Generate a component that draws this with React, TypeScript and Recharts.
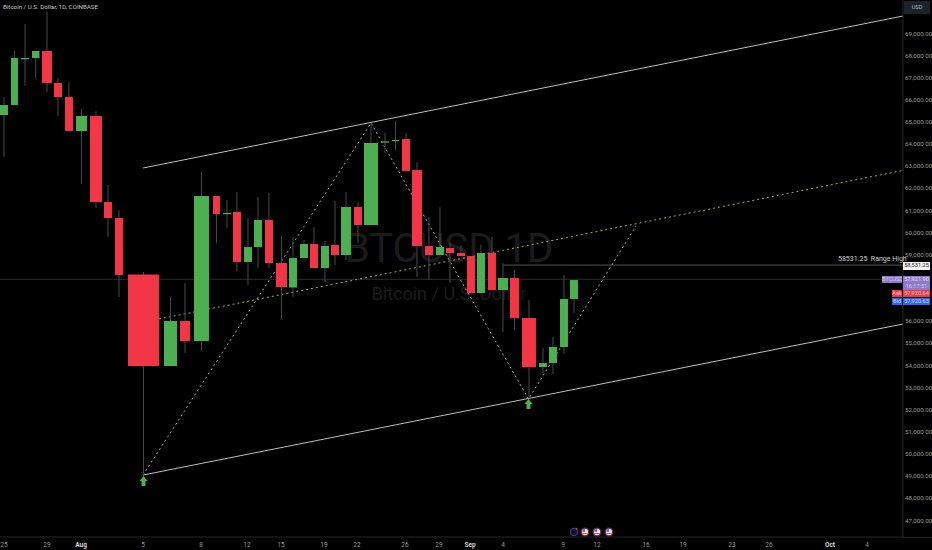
import { ComposedChart, Bar, Line, Scatter, XAxis, YAxis } from "recharts";

// daily candles, 25 Jul - 10 Sep
const dates = [
    "Jul 25", "Jul 26", "Jul 27", "Jul 28", "Jul 29", "Jul 30", "Jul 31",
    "Aug 1", "Aug 2", "Aug 3", "Aug 4", "Aug 5", "Aug 6", "Aug 7", "Aug 8", "Aug 9", "Aug 10",
    "Aug 11", "Aug 12", "Aug 13", "Aug 14", "Aug 15", "Aug 16", "Aug 17", "Aug 18", "Aug 19", "Aug 20",
    "Aug 21", "Aug 22", "Aug 23", "Aug 24", "Aug 25", "Aug 26", "Aug 27", "Aug 28", "Aug 29", "Aug 30", "Aug 31",
    "Sep 1", "Sep 2", "Sep 3", "Sep 4", "Sep 5", "Sep 6", "Sep 7", "Sep 8", "Sep 9", "Sep 10",
];
const opens = [
    65309, 65761, 67884, 67884, 68200, 66755, 66122,
    64587, 65264, 61380, 60657, 58105, 53972, 56005, 55101, 61651, 60884,
    60928, 58669, 59347, 60567, 58624, 57518, 58850, 59482, 58398, 59437,
    58986, 61154, 60341, 64112, 64180, 64225, 62825, 59392, 58986, 59302, 59076,
    58940, 57269, 59076, 57405, 57947, 56140, 53926, 54107, 54830, 56998,
];
const highs = [
    66122, 68200, 69420, 68200, 69962, 66981, 66800,
    65580, 65490, 62147, 61018, 58218, 57089, 57721, 62735, 61651, 61470,
    61831, 60657, 61605, 61786, 59844, 59799, 59663, 60250, 59618, 61425,
    61831, 61380, 64948, 64496, 65038, 64496, 63186, 60702, 61154, 59528, 59437,
    58940, 59437, 59799, 58624, 58308, 56953, 54785, 55282, 58082, 57856,
];
const lows = [
    63412, 65761, 66619, 66981, 66348, 65264, 64587,
    62193, 61109, 59799, 57089, 49048, 53972, 54559, 54649, 59528, 60205,
    58263, 57630, 58398, 58398, 56095, 57089, 58850, 58398, 57766, 58534,
    58760, 59528, 60341, 63593, 63729, 62780, 57992, 57856, 58986, 57721, 58940,
    57269, 57269, 57405, 55507, 55598, 52572, 53656, 53610, 54514, 56366,
];
const closes = [
    65761, 67884, 67884, 68200, 66755, 66122, 64587,
    65264, 61380, 60657, 58082, 53972, 56005, 55101, 61651, 60838, 60890,
    58669, 59347, 60567, 58624, 57540, 58850, 59482, 58398, 59392, 58986,
    61154, 60341, 64045, 64120, 64185, 62780, 59392, 58986, 59347, 59076, 58940,
    57269, 59076, 57405, 57947, 56140, 53926, 54107, 54830, 56998, 57856,
];

// the time scale of this picture is uneven, so every candle has its own span on it
const timeAxisEnd = 903;
const barSpans = [
    [0, 8], [11, 18], [21, 29], [32, 39.5], [42, 52], [54, 62], [65, 73],
    [76, 87], [90, 102], [104, 112], [115, 123], [128, 159], [164, 177], [180, 190], [194, 209], [213, 220], [223, 231],
    [233, 241], [244, 252], [254, 262], [265, 273], [276, 287], [289, 297], [300, 308], [310, 318], [321, 329], [331, 339],
    [341, 351], [354, 362], [364, 378], [381, 389], [392, 399], [402, 410], [412, 422], [425, 433], [436, 444], [446, 454], [457, 465],
    [467, 475], [477, 485], [488, 496], [498, 508], [510, 519], [522, 536], [539, 547], [549, 557], [560, 568], [570, 578],
];

const tickTimes = [4, 47, 81, 143, 201, 247, 281, 324, 357, 405, 439, 470, 503, 563, 597, 646, 683, 732, 769, 830, 867];
const tickLabels = ["25", "29", "Aug", "5", "8", "12", "15", "19", "22", "26", "29", "Sep", "4", "9", "12", "16", "19", "23", "26", "Oct", "4"];
const priceTicks = [47000, 48000, 49000, 50000, 51000, 52000, 53000, 54000, 55000, 56000, 59000, 60000, 61000, 62000, 63000, 64000, 65000, 66000, 67000, 68000, 69000];

const upperChannel = [{ t: 143, price: 62915 }, { t: 903, price: 69781 }];
const midChannel = [{ t: 159, price: 56095 }, { t: 903, price: 62807 }];
const lowerChannel = [{ t: 143, price: 49048 }, { t: 903, price: 55869 }];
const zigzag = [
    { t: 143, price: 49048 },
    { t: 371, price: 64948 },
    { t: 528.5, price: 52481 },
    { t: 636, price: 60296 },
];
const rangeHigh = [{ t: 503, price: 58531.25 }, { t: 903, price: 58531.25 }];
const lastPrice = [{ t: 0, price: 57890 }, { t: 903, price: 57890 }];
const arrows = [{ t: 143.5, price: 48777 }, { t: 528.5, price: 52256 }];
const events = [
    { t: 574, price: 46475, kind: "split" },
    { t: 585, price: 46475, kind: "us" },
    { t: 597, price: 46475, kind: "us" },
    { t: 609, price: 46475, kind: "us" },
];

const candles = dates.map((date, i) => ({
    date,
    t: (barSpans[i][0] + barSpans[i][1]) / 2,
    span: barSpans[i][1] - barSpans[i][0],
    open: opens[i],
    high: highs[i],
    low: lows[i],
    close: closes[i],
}));

const UP = "#4caf50";
const DOWN = "#f23645";

const Candle = (props: any) => {
    const { x, y, width, height, payload } = props;
    const cx = x + width / 2;
    const range = payload.high - payload.low;
    const toY = (p: number) => y + ((payload.high - p) / range) * height;
    const top = toY(Math.max(payload.open, payload.close));
    const bottom = toY(Math.min(payload.open, payload.close));
    return (
        <g>
            <line x1={cx} x2={cx} y1={y} y2={y + height} stroke="#4a4a4a" strokeWidth={1} />
            <rect
                x={cx - payload.span / 2}
                y={top}
                width={payload.span}
                height={Math.max(bottom - top, 1.3)}
                fill={payload.close >= payload.open ? UP : DOWN}
            />
        </g>
    );
};

const Arrow = (props: any) => {
    const { cx, cy } = props;
    return (
        <polygon
            points={`${cx},${cy - 5} ${cx + 4},${cy} ${cx + 2},${cy} ${cx + 2},${cy + 5} ${cx - 2},${cy + 5} ${cx - 2},${cy} ${cx - 4},${cy}`}
            fill={UP}
        />
    );
};

const EventIcon = (props: any) => {
    const { cx, cy, payload } = props;
    if (payload.kind === "split") {
        return (
            <g>
                <circle cx={cx} cy={cy} r={3.8} fill="#14102a" stroke="#4a3f9a" strokeWidth={1} />
                <circle cx={cx + 2.6} cy={cy - 3} r={0.9} fill="#f23645" />
            </g>
        );
    }
    return (
        <g>
            <circle cx={cx} cy={cy} r={3.8} fill="#e8e8f0" stroke="#7c2430" strokeWidth={1.2} />
            <rect x={cx - 2.6} y={cy - 2.8} width={2.6} height={2.6} fill="#3f6fd8" />
            <rect x={cx - 2.8} y={cy + 1} width={5.6} height={1} fill="#d85050" />
        </g>
    );
};

const TimeTick = (props: any) => {
    const { x, payload } = props;
    const label = tickLabels[tickTimes.indexOf(payload.value)];
    const isMonth = /[A-Za-z]/.test(label);
    return (
        <text
            x={x}
            y={546.5}
            textAnchor="middle"
            fontSize={6.5}
            fontFamily="Roboto"
            fontWeight={isMonth ? 700 : 400}
            fill={isMonth ? "#d8d8d8" : "#9a9a9a"}
        >
            {label}
        </text>
    );
};

const tag = (
    left: number,
    top: number,
    width: number,
    height: number,
    background: string,
    color: string,
    text: string
) => (
    <div
        style={{
            position: "absolute",
            left,
            top,
            width,
            height,
            background,
            color,
            fontSize: 5.6,
            lineHeight: `${height}px`,
            textAlign: "center",
            whiteSpace: "nowrap",
            overflow: "hidden",
            fontFamily: "Roboto",
        }}
    >
        {text}
    </div>
);

const lineProps = { dataKey: "price", dot: false, activeDot: false, isAnimationActive: false };

const App = () => {
    return (
        <div style={{ position: "absolute", left: 0, top: 0, width: 932, height: 550, background: "#000", overflow: "hidden" }}>
            <div style={{ position: "absolute", left: 249, width: 400, top: 226, textAlign: "center", color: "#1b1b1b", fontSize: 40, lineHeight: "46px", fontFamily: "Roboto" }}>
                BTCUSD 1D
            </div>
            <div style={{ position: "absolute", left: 249, width: 400, top: 283, textAlign: "center", color: "#1b1b1b", fontSize: 18, lineHeight: "22px", fontFamily: "Roboto" }}>
                Bitcoin / U.S. Dollar
            </div>
            <div style={{ position: "absolute", left: 3, top: 3, color: "#c8c8c8", fontSize: 6.2, lineHeight: "8px", fontFamily: "Roboto" }}>
                Bitcoin / U.S. Dollar, 1D, COINBASE
            </div>

            <div style={{ position: "absolute", left: 0, top: 0 }}>
                <ComposedChart width={932} height={550} data={candles} margin={{ top: 0, right: 0, bottom: 0, left: 0 }}>
                    <XAxis
                        dataKey="t"
                        type="number"
                        domain={[0, timeAxisEnd]}
                        ticks={tickTimes}
                        interval={0}
                        height={13}
                        tick={<TimeTick />}
                        tickLine={false}
                        axisLine={{ stroke: "#262626" }}
                        allowDataOverflow
                    />
                    <YAxis
                        orientation="right"
                        type="number"
                        domain={[46250, 70504]}
                        ticks={priceTicks}
                        interval={0}
                        width={29}
                        tick={{ fontSize: 6.2, fill: "#9a9a9a", fontFamily: "Roboto" }}
                        tickFormatter={(v: number) => v.toLocaleString("en-US", { minimumFractionDigits: 2 })}
                        tickLine={false}
                        tickSize={0}
                        tickMargin={2}
                        axisLine={{ stroke: "#262626" }}
                        allowDataOverflow
                    />
                    <Line {...lineProps} data={lastPrice} stroke="#2c2c2c" strokeWidth={1} />
                    <Line {...lineProps} data={rangeHigh} stroke="#555555" strokeWidth={1} />
                    <Line {...lineProps} data={upperChannel} stroke="#bdbdbd" strokeWidth={1} />
                    <Line {...lineProps} data={lowerChannel} stroke="#bdbdbd" strokeWidth={1} />
                    <Line {...lineProps} data={midChannel} stroke="#a8a860" strokeWidth={1} strokeDasharray="2 3" />
                    <Line {...lineProps} data={zigzag} stroke="#a8a8a8" strokeWidth={1} strokeDasharray="2 3" />
                    <Bar dataKey={(d: any) => [d.low, d.high]} barSize={4} shape={<Candle />} isAnimationActive={false} zIndex={450} />
                    <Scatter data={arrows} dataKey="price" shape={<Arrow />} isAnimationActive={false} />
                    <Scatter data={events} dataKey="price" shape={<EventIcon />} isAnimationActive={false} />
                </ComposedChart>
            </div>

            <div style={{ position: "absolute", left: 838, top: 255, color: "#d0d0d0", fontSize: 7, lineHeight: "9px", whiteSpace: "pre", fontFamily: "Roboto" }}>
                {"58531.25  Range High"}
            </div>
            <div style={{ position: "absolute", left: 903, top: 537, width: 29, height: 1, background: "#262626" }} />
            {tag(904, 1, 26, 13, "#1e222d", "#b8b8b8", "USD")}
            {tag(903, 262, 27, 7.5, "#f4f4f4", "#222", "58,531.25")}
            {tag(882, 276, 20, 7, "#8e78c8", "#d8d0f0", "BTCUSD")}
            {tag(903, 276, 27, 7, "#8e78c8", "#e8e0f8", "57,921.90")}
            {tag(903, 283, 27, 6.5, "#8e78c8", "#d8d0f0", "16:17:51")}
            {tag(892, 290, 10, 7, "#f23645", "#ffd8d8", "Ask")}
            {tag(903, 290, 27, 7, "#f23645", "#ffd8d8", "57,920.64")}
            {tag(892, 298, 10, 7, "#2962ff", "#d8e0ff", "Bid")}
            {tag(903, 298, 27, 7, "#2962ff", "#d8e0ff", "57,920.63")}
        </div>
    );
};

export default App;
